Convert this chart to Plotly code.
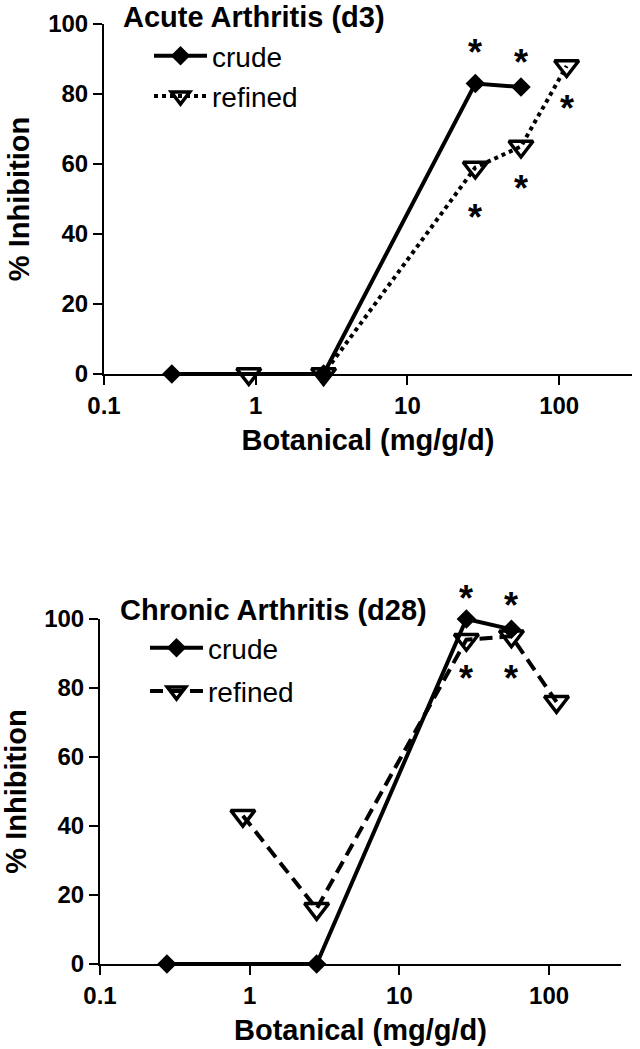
import numpy as np
import plotly.graph_objects as go

# ---- data ----
crude_dose = [0.28, 2.8, 28, 56]
refined_dose = [0.9, 2.8, 28, 56, 112]

acute_crude = [0, 0, 83, 82]
acute_refined = [0, 0, 59, 65, 88]
chronic_crude = [0, 0, 100, 97]
chronic_refined = [43, 16, 94, 95, 76]

acute_star_x = [28, 56, 28, 56, 112]
acute_star_y = [93, 90, 46, 54, 77]
chronic_star_x = [28, 56, 28, 56]
chronic_star_y = [107, 105, 84, 84]

x_tickvals = [0.1, 1, 10, 100]
x_ticktext = ["0.1", "1", "10", "100"]
y_tickvals = [0, 20, 40, 60, 80, 100]
y_range = [0, 100]
x_range_log = [-1, 2.48]

titles = ["Acute Arthritis (d3)", "Chronic Arthritis (d28)"]
x_title = "Botanical (mg/g/d)"
y_title = "% Inhibition"

# body margin is removed below, so screen pixels == figure pixels
W, H = 640, 1049
FONT = "Liberation Sans, Arial, sans-serif"

def px(x0, x1):
    return [x0 / W, x1 / W]

def py(ytop, ybot):
    return [1 - ybot / H, 1 - ytop / H]

def pxs(x):
    return x / W

def pys(y):
    return 1 - y / H

fig = go.Figure()

panels = [
    dict(xa="x", ya="y", leg="legend", crude=acute_crude, refined=acute_refined,
         dash="dot", sx=acute_star_x, sy=acute_star_y),
    dict(xa="x2", ya="y2", leg="legend2", crude=chronic_crude, refined=chronic_refined,
         dash="13px,7px", sx=chronic_star_x, sy=chronic_star_y),
]

for i, p in enumerate(panels):
    fig.add_trace(go.Scatter(
        x=refined_dose, y=p["refined"], name="refined", mode="lines+markers",
        xaxis=p["xa"], yaxis=p["ya"], legend=p["leg"], legendrank=2,
        legendgroup=f"r{i}", cliponaxis=False,
        line=dict(color="black", width=4, dash=p["dash"]),
        marker=dict(symbol="triangle-down-open", size=21, color="black",
                    line=dict(color="black", width=3.5)),
    ))
    fig.add_trace(go.Scatter(
        x=crude_dose, y=p["crude"], name="crude", mode="lines+markers",
        xaxis=p["xa"], yaxis=p["ya"], legend=p["leg"], legendrank=1,
        legendgroup=f"c{i}", cliponaxis=False,
        line=dict(color="black", width=4),
        marker=dict(symbol="diamond", size=15, color="black"),
    ))
    # significance asterisks (y given as a fraction of the axis so that
    # asterisks above 100 % are still drawn)
    for sx, sy in zip(p["sx"], p["sy"]):
        fig.add_annotation(
            x=np.log10(sx), xref=p["xa"],
            y=(sy - y_range[0]) / (y_range[1] - y_range[0]), yref=p["ya"] + " domain",
            xanchor="center", yanchor="middle",
            text="*", showarrow=False, yshift=-4,
            font=dict(family=FONT, size=36, color="black", weight="bold"))

axis_common = dict(
    showline=True, linecolor="black", linewidth=2,
    ticks="outside", ticklen=9, tickwidth=2, tickcolor="black",
    showgrid=False, zeroline=False, automargin=False,
    tickfont=dict(family=FONT, size=24, color="black", weight="bold"),
)

xaxis_common = dict(axis_common, type="log", range=x_range_log,
                    tickvals=x_tickvals, ticktext=x_ticktext,
                    title=dict(text=x_title, standoff=12,
                               font=dict(family=FONT, size=29, color="black", weight="bold")))
yaxis_common = dict(axis_common, range=y_range, tickvals=y_tickvals,
                    title=dict(text=y_title, standoff=10,
                               font=dict(family=FONT, size=29, color="black", weight="bold")))

legend_common = dict(
    font=dict(family=FONT, size=28, color="black"),
    bgcolor="rgba(0,0,0,0)", borderwidth=0, itemwidth=53,
    traceorder="grouped",
    xanchor="left", yanchor="top",
)

fig.update_layout(
    width=W, height=H, margin=dict(l=0, r=0, t=0, b=0),
    paper_bgcolor="white", plot_bgcolor="white",
    showlegend=True,
    xaxis=dict(xaxis_common, domain=px(104, 632), anchor="y"),
    yaxis=dict(yaxis_common, domain=py(24, 374), anchor="x"),
    xaxis2=dict(xaxis_common, domain=px(100, 621), anchor="y2"),
    yaxis2=dict(yaxis_common, domain=py(619, 964), anchor="x2"),
    legend=dict(legend_common, x=pxs(149), y=pys(31), tracegroupgap=1),
    legend2=dict(legend_common, x=pxs(145), y=pys(623), tracegroupgap=4),
)

fig.add_annotation(x=pxs(121), y=pys(17), xref="paper", yref="paper",
                   xanchor="left", yanchor="middle", showarrow=False,
                   text=titles[0],
                   font=dict(family=FONT, size=29, color="black", weight="bold"))
fig.add_annotation(x=pxs(118), y=pys(610), xref="paper", yref="paper",
                   xanchor="left", yanchor="middle", showarrow=False,
                   text=titles[1],
                   font=dict(family=FONT, size=29, color="black", weight="bold"))

fig.write_html("out.html", config={"displayModeBar": False},
               post_script="document.body.style.margin='0';")
